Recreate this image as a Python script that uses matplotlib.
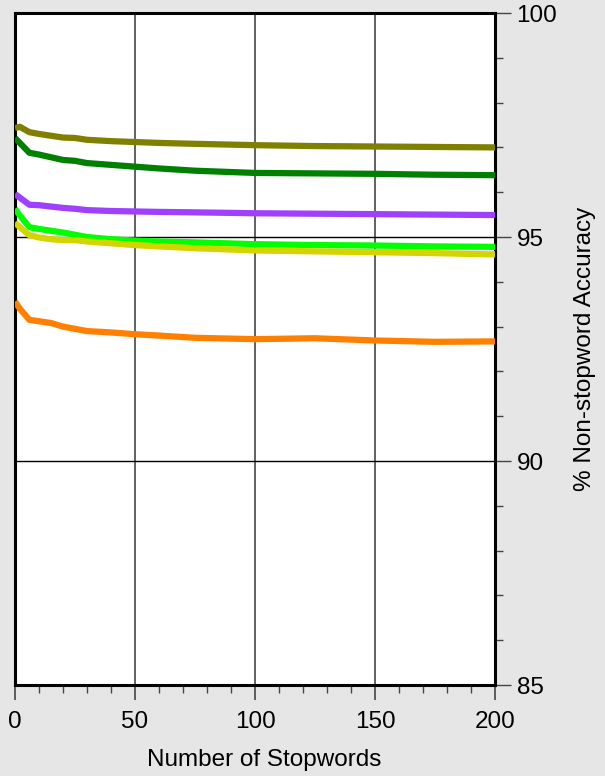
import matplotlib
matplotlib.use("Agg")
import matplotlib.pyplot as plt
from matplotlib.ticker import MultipleLocator

# Stopword list sizes and accuracy for each run
stopwords = [0, 2, 6, 10, 15, 20, 25, 30, 40, 50, 60, 75, 100, 125, 150, 175, 200]

acc_olive = [97.43, 97.46, 97.34, 97.30, 97.26, 97.22, 97.21, 97.17, 97.14, 97.12,
             97.10, 97.08, 97.05, 97.03, 97.02, 97.01, 97.00]
acc_darkgreen = [97.21, 97.10, 96.88, 96.84, 96.78, 96.72, 96.70, 96.65, 96.61, 96.57,
                 96.53, 96.48, 96.43, 96.42, 96.41, 96.39, 96.38]
acc_purple = [95.96, 95.88, 95.72, 95.71, 95.68, 95.65, 95.63, 95.60, 95.58, 95.57,
              95.56, 95.55, 95.53, 95.52, 95.51, 95.50, 95.49]
acc_green = [95.63, 95.48, 95.22, 95.18, 95.14, 95.10, 95.05, 95.00, 94.95, 94.92,
             94.90, 94.88, 94.84, 94.82, 94.81, 94.79, 94.78]
acc_yellow = [95.32, 95.22, 95.04, 94.99, 94.95, 94.93, 94.93, 94.90, 94.86, 94.82,
              94.79, 94.75, 94.70, 94.68, 94.66, 94.64, 94.61]
acc_orange = [93.56, 93.40, 93.15, 93.12, 93.08, 93.00, 92.95, 92.90, 92.87, 92.83,
              92.80, 92.75, 92.72, 92.74, 92.69, 92.66, 92.67]

series = [
    (acc_olive, "#808000"),
    (acc_darkgreen, "#008000"),
    (acc_purple, "#a040ff"),
    (acc_green, "#00ff00"),
    (acc_yellow, "#d4d400"),
    (acc_orange, "#ff8000"),
]

plt.rcParams["font.family"] = ["Liberation Sans", "DejaVu Sans"]

fig = plt.figure(figsize=(6.05, 7.76), dpi=100, facecolor="#e6e6e6")
ax = fig.add_axes([15 / 605, 91 / 776, 480 / 605, 672 / 776])
ax.set_facecolor("white")

for vals, col in series:
    ax.plot(stopwords, vals, color=col, linewidth=4.5, solid_capstyle="butt", zorder=3)

ax.set_xlim(0, 200)
ax.set_ylim(85, 100)

# grid: dark grey verticals, black horizontals
for xv in [50, 100, 150]:
    ax.axvline(xv, color="#555555", linewidth=1.3, zorder=1)
for yv in [90, 95]:
    ax.axhline(yv, color="black", linewidth=1.0, zorder=1)

ax.xaxis.set_major_locator(MultipleLocator(50))
ax.xaxis.set_minor_locator(MultipleLocator(10))
ax.yaxis.set_major_locator(MultipleLocator(5))
ax.yaxis.set_minor_locator(MultipleLocator(1))

ax.yaxis.tick_right()
ax.yaxis.set_label_position("right")
ax.tick_params(axis="x", which="major", direction="out", length=11, width=1.2,
               color="#444444", labelsize=17.5, pad=8)
ax.tick_params(axis="x", which="minor", direction="out", length=6, width=1.0, color="#444444")
ax.tick_params(axis="y", which="major", direction="out", length=11.5, width=1.0,
               color="#444444", labelsize=17.5, pad=4, left=False, right=True)
ax.tick_params(axis="y", which="minor", direction="out", length=6, width=1.0,
               color="#444444", left=False, right=True)

for sp in ax.spines.values():
    sp.set_linewidth(2.2)
    sp.set_color("black")

ax.set_xlabel("Number of Stopwords", fontsize=17.5)
ax.xaxis.set_label_coords(0.519, -0.095)
ax.set_ylabel("% Non-stopword Accuracy", fontsize=17.5, labelpad=12)

fig.savefig("out.png", dpi=100, facecolor=fig.get_facecolor())
